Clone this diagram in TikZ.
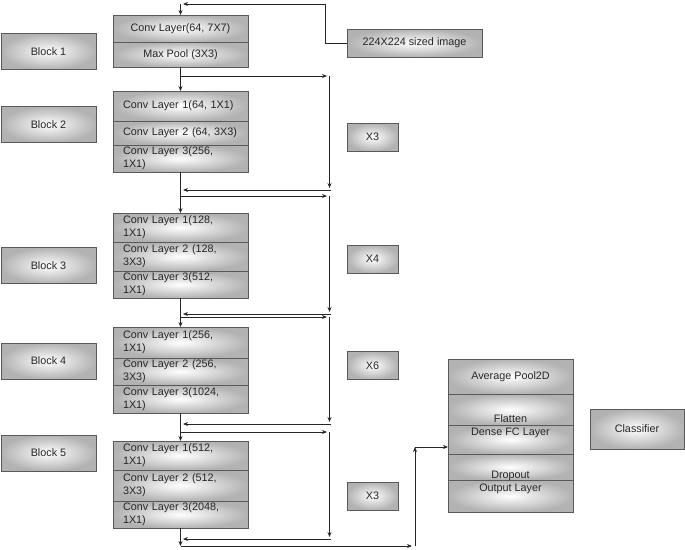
\documentclass[tikz,border=0pt]{standalone}
\usepackage{fontspec}
\setmainfont{Liberation Sans}
\usetikzlibrary{arrows.meta,positioning}

\tikzset{
	shadebox/.style = {draw = black!65, line width = 1pt, inner color = white, outer color = black!30,
		text = black!85, font = \fontsize{10.8}{13}\selectfont},
	layer/.style = {shadebox, minimum width = 135pt, inner sep = 0pt, outer sep = 0pt, anchor = north},
	conv/.style = {layer, text width = 115pt, align = left},
	head/.style = {layer, minimum width = 125pt},
	blocktag/.style = {shadebox, minimum width = 95pt, minimum height = 36pt, inner sep = 0pt},
	xtag/.style = {shadebox, minimum width = 51pt, minimum height = 28pt, inner sep = 0pt},
	flow/.style = {-{Stealth[length = 5pt, width = 4pt]}, line width = 0.8pt, black!85}
}

\begin{document}
\begin{tikzpicture}[x = 1pt, y = -1pt]
	\useasboundingbox (0,0) rectangle (685,549);
	% block tags on the left
	\node [blocktag] (blk1) at (48.5,51.5) {Block 1};
	\node [blocktag] (blk2) at (48.5,124.5) {Block 2};
	\node [blocktag] (blk3) at (48.5,265.5) {Block 3};
	\node [blocktag] (blk4) at (48.5,361) {Block 4};
	\node [blocktag] (blk5) at (48.5,453) {Block 5};
	% block 1
	\node [layer, minimum height = 27pt] (b1a) at (180.5,15) {Conv Layer(64, 7X7)};
	\node [layer, minimum height = 25pt, below = 0pt of b1a] (b1b) {Max Pool (3X3)};
	% block 2
	\node [conv, minimum height = 30pt] (b2a) at (180.5,91) {Conv Layer 1(64, 1X1)};
	\node [conv, minimum height = 24pt, below = 0pt of b2a] (b2b) {Conv Layer 2 (64, 3X3)};
	\node [conv, minimum height = 27pt, below = 0pt of b2b] (b2c) {Conv Layer 3(256,\\1X1)};
	% block 3
	\node [conv, minimum height = 29pt] (b3a) at (180.5,213) {Conv Layer 1(128,\\1X1)};
	\node [conv, minimum height = 29pt, below = 0pt of b3a] (b3b) {Conv Layer 2 (128,\\3X3)};
	\node [conv, minimum height = 27pt, below = 0pt of b3b] (b3c) {Conv Layer 3(512,\\1X1)};
	% block 4
	\node [conv, minimum height = 31pt] (b4a) at (180.5,327) {Conv Layer 1(256,\\1X1)};
	\node [conv, minimum height = 27pt, below = 0pt of b4a] (b4b) {Conv Layer 2 (256,\\3X3)};
	\node [conv, minimum height = 28pt, below = 0pt of b4b] (b4c) {Conv Layer 3(1024,\\1X1)};
	% block 5
	\node [conv, minimum height = 29pt] (b5a) at (180.5,441) {Conv Layer 1(512,\\1X1)};
	\node [conv, minimum height = 31pt, below = 0pt of b5a] (b5b) {Conv Layer 2 (512,\\3X3)};
	\node [conv, minimum height = 27pt, below = 0pt of b5b] (b5c) {Conv Layer 3(2048,\\1X1)};
	% repeat tags and input
	\node [xtag] (rep1) at (372.5,137) {X3};
	\node [xtag] (rep2) at (372.5,259) {X4};
	\node [xtag] (rep3) at (372.5,365.5) {X6};
	\node [xtag] (rep4) at (372.5,496) {X3};
	\node [shadebox, minimum width = 135pt, minimum height = 28pt, inner sep = 0pt] (img) at (414.5,43) {224X224 sized image};
	% classifier head
	\node [head, minimum height = 35pt] (h1) at (510.5,359) {Average Pool2D};
	\node [head, text height = 28pt, text depth = 3pt, below = 0pt of h1] (h2) {Flatten};
	\node [head, text height = 10pt, text depth = 19pt, below = 0pt of h2] (h3) {Dense FC Layer};
	\node [head, text height = 24pt, text depth = 2pt, below = 0pt of h3] (h4) {Dropout};
	\node [head, text height = 11pt, text depth = 21pt, below = 0pt of h4] (h5) {Output Layer};
	\node [shadebox, minimum width = 94pt, minimum height = 40pt, inner sep = 0pt] (cls) at (637,429) {Classifier};
	% input connector
	\coordinate (imgturn) at (325,4);
	\coordinate (imgend) at (183,4);
	\coordinate (topin) at (180.5,4);
	\draw [flow] (img.west) -| (imgturn) -- (imgend);
	\draw [flow] (topin) -- (b1a.north);
	% main line
	\coordinate (tail) at (180.5,546);
	\draw [flow] (b1b.south) -- (b2a.north);
	\draw [flow] (b2c.south) -- (b3a.north);
	\draw [flow] (b3c.south) -- (b4a.north);
	\draw [flow] (b4c.south) -- (b5a.north);
	\draw [flow] (b5c.south) -- (tail);
	% skip loops
	\foreach \ya/\yb [count = \i] in {76/189, 196/313, 317/423, 432/538}{
	\coordinate (split\i) at (180.5,\ya);
	\coordinate (right\i) at (327,\ya);
	\coordinate (top\i) at (329.5,\ya);
	\coordinate (bot\i) at (329.5,\yb-1);
	\coordinate (back\i) at (331,\yb+1);
	\coordinate (merge\i) at (183,\yb+1);
	\draw [flow] (split\i) -- (right\i);
	\draw [flow] (top\i) -- (bot\i);
	\draw [flow] (back\i) -- (merge\i);
	}
	% to the head
	\coordinate (tailr) at (412,546);
	\coordinate (upb) at (415,546);
	\coordinate (upt) at (415,447);
	\draw [flow] (tail) -- (tailr);
	\draw [flow] (upb) -- (upt);
	\draw [flow] (upt) -- (upt -| h3.west);
\end{tikzpicture}
\end{document}
